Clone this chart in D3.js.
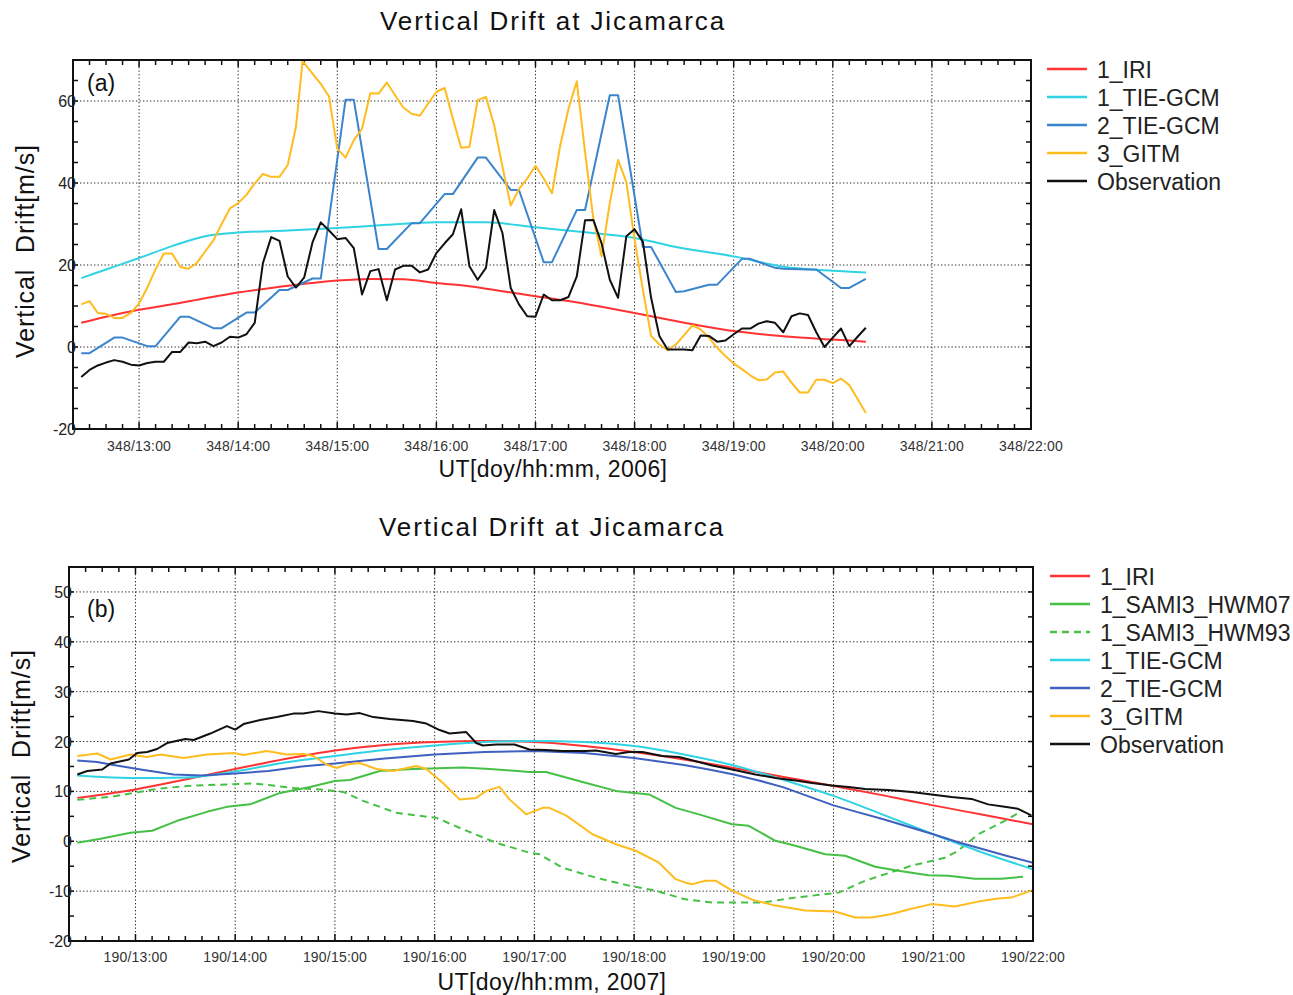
<!DOCTYPE html>
<html><head><meta charset="utf-8">
<script src="https://cdn.jsdelivr.net/npm/d3@7"></script>
<style>
body{margin:0;background:#fff}
svg{display:block}
text{font-family:"Liberation Sans",Arial,Helvetica,sans-serif;fill:#111}
</style>
</head><body>
<svg id="chart" width="1293" height="995"></svg>
<script>
// ---------------- DATA ----------------
const chartTitle = "Vertical Drift at Jicamarca";
const yAxisLabel = "Vertical  Drift[m/s]";
const xTickHours = [13,14,15,16,17,18,19,20,21,22];

// Panel (a): day 348, 2006
const aDoy = "348";
const aXLabel = "UT[doy/hh:mm, 2006]";
const aYTicks = [-20, 0, 20, 40, 60];
const aNames = ["1_IRI", "1_TIE-GCM", "2_TIE-GCM", "3_GITM", "Observation"];

const aIRI = [["12:25",5.9],["12:40",7.4],["13:00",9.1],["13:20",10.4],["13:40",11.9],["14:00",13.3],["14:20",14.4],["14:40",15.4],["15:00",16.2],["15:20",16.6],["15:40",16.5],["16:00",15.6],["16:20",14.8],["16:40",13.6],["17:00",12.4],["17:20",11.2],["17:40",9.8],["18:00",8.3],["18:20",6.7],["18:40",5.2],["19:00",3.9],["19:20",3.0],["19:40",2.3],["20:00",1.8],["20:20",1.3]];

const aTIE1 = [["12:25",16.8],["12:40",18.9],["13:00",21.7],["13:20",24.6],["13:40",27.0],["14:00",27.9],["14:30",28.4],["15:00",29.0],["15:30",29.8],["16:00",30.4],["16:30",30.4],["17:00",29.2],["17:30",28.0],["18:00",26.6],["18:30",24.0],["19:00",22.1],["19:30",19.6],["20:00",18.6],["20:20",18.2]];

const aTIE2 = [["12:25",-1.5],["12:30",-1.5],["12:45",2.3],["12:50",2.3],["13:05",0.2],["13:10",0.2],["13:25",7.4],["13:30",7.4],["13:45",4.6],["13:50",4.6],["14:05",8.4],["14:10",8.4],["14:25",13.9],["14:30",13.9],["14:45",16.7],["14:50",16.7],["15:05",60.3],["15:10",60.3],["15:25",23.9],["15:30",23.9],["15:45",30.2],["15:50",30.2],["16:05",37.3],["16:10",37.3],["16:25",46.2],["16:30",46.2],["16:45",38.3],["16:50",38.3],["17:05",20.7],["17:10",20.7],["17:25",33.4],["17:30",33.4],["17:45",61.4],["17:50",61.4],["18:05",24.4],["18:10",24.4],["18:25",13.4],["18:30",13.6],["18:45",15.2],["18:50",15.2],["19:05",21.5],["19:10",21.5],["19:25",19.3],["19:30",19.1],["19:45",18.9],["19:50",18.9],["20:05",14.4],["20:10",14.4],["20:20",16.6]];

const aGITM = [["12:25",10.4],["12:30",11.2],["12:35",8.3],["12:40",8.1],["12:45",7.1],["12:50",7.1],["12:55",8.3],["13:00",10.6],["13:05",14.5],["13:10",19.0],["13:15",22.8],["13:20",22.8],["13:25",19.5],["13:30",19.1],["13:35",20.5],["13:40",23.3],["13:45",26.0],["13:50",30.0],["13:55",33.8],["14:00",35.1],["14:05",37.1],["14:10",39.9],["14:15",42.2],["14:20",41.5],["14:25",41.5],["14:30",44.4],["14:35",53.7],["14:39",69.8],["14:45",66.7],["14:50",64.2],["14:55",61.1],["15:00",48.4],["15:05",46.2],["15:10",50.4],["15:15",53.3],["15:20",61.9],["15:25",61.8],["15:30",64.5],["15:35",61.4],["15:40",58.4],["15:45",56.9],["15:50",56.4],["15:55",59.4],["16:00",62.2],["16:05",63.2],["16:10",55.7],["16:15",48.6],["16:20",48.8],["16:25",60.2],["16:30",61.0],["16:35",54.1],["16:40",44.0],["16:45",34.5],["16:50",38.5],["16:55",41.1],["17:00",44.2],["17:05",41.1],["17:10",37.5],["17:15",49.2],["17:20",58.1],["17:25",64.8],["17:30",47.6],["17:35",31.4],["17:40",22.1],["17:45",35.1],["17:50",45.6],["17:55",40.3],["18:00",26.2],["18:05",14.0],["18:10",2.7],["18:15",0.6],["18:20",-0.8],["18:25",0.6],["18:30",2.9],["18:35",5.3],["18:40",4.3],["18:45",2.3],["18:50",-0.2],["18:55",-2.2],["19:00",-4.0],["19:05",-5.4],["19:10",-6.9],["19:15",-8.1],["19:20",-7.9],["19:25",-6.2],["19:30",-6.0],["19:35",-8.7],["19:40",-11.1],["19:45",-11.1],["19:50",-8.0],["19:55",-8.0],["20:00",-8.8],["20:05",-7.7],["20:10",-9.3],["20:15",-12.7],["20:20",-16.1]];

const aObs = [["12:25",-7.3],["12:30",-5.6],["12:35",-4.5],["12:40",-3.8],["12:45",-3.2],["12:50",-3.6],["12:55",-4.3],["13:00",-4.5],["13:05",-3.9],["13:10",-3.6],["13:15",-3.6],["13:20",-1.2],["13:25",-1.2],["13:30",1.1],["13:35",0.9],["13:40",1.3],["13:45",0.2],["13:50",1.1],["13:55",2.5],["14:00",2.3],["14:05",3.1],["14:10",5.9],["14:15",20.5],["14:20",26.8],["14:25",25.9],["14:30",17.2],["14:35",14.5],["14:40",17.0],["14:45",25.5],["14:50",30.4],["14:55",28.4],["15:00",26.3],["15:05",26.6],["15:10",24.1],["15:15",12.8],["15:20",18.5],["15:25",19.0],["15:30",11.4],["15:35",18.9],["15:40",19.8],["15:45",19.8],["15:50",18.2],["15:55",18.9],["16:00",22.9],["16:05",25.3],["16:10",27.5],["16:15",33.6],["16:20",19.7],["16:25",16.4],["16:30",19.3],["16:35",33.4],["16:40",27.8],["16:45",14.4],["16:50",10.4],["16:55",7.5],["17:00",7.4],["17:05",12.8],["17:10",11.4],["17:15",11.4],["17:20",12.2],["17:25",17.2],["17:30",30.9],["17:35",31.0],["17:40",25.3],["17:45",16.4],["17:50",12.0],["17:55",27.0],["18:00",28.7],["18:05",25.7],["18:10",12.0],["18:15",2.7],["18:20",-0.6],["18:25",-0.6],["18:30",-0.6],["18:35",-0.8],["18:40",2.8],["18:45",2.7],["18:50",1.3],["18:55",1.6],["19:00",3.1],["19:05",4.5],["19:10",4.5],["19:15",5.7],["19:20",6.3],["19:25",5.9],["19:30",3.6],["19:35",7.5],["19:40",8.2],["19:45",7.8],["19:50",3.6],["19:55",0.0],["20:00",2.3],["20:05",4.5],["20:10",0.2],["20:15",2.5],["20:20",4.7]];

// Panel (b): day 190, 2007
const bDoy = "190";
const bXLabel = "UT[doy/hh:mm, 2007]";
const bYTicks = [-20, -10, 0, 10, 20, 30, 40, 50];
const bNames = ["1_IRI", "1_SAMI3_HWM07", "1_SAMI3_HWM93", "1_TIE-GCM", "2_TIE-GCM", "3_GITM", "Observation"];

const bIRI = [["12:25",8.7],["13:00",10.4],["13:30",12.4],["14:00",14.5],["14:30",16.5],["15:00",18.2],["15:30",19.3],["16:00",19.9],["16:30",20.1],["17:00",19.9],["17:30",19.1],["18:00",17.9],["18:30",16.4],["19:00",14.7],["19:30",12.9],["20:00",11.1],["20:30",9.2],["21:00",7.2],["21:30",5.3],["22:00",3.4]];

const bSAMI07 = [["12:25",-0.3],["12:39",0.5],["12:57",1.7],["13:10",2.1],["13:25",4.1],["13:43",5.9],["13:55",6.9],["14:09",7.4],["14:27",9.7],["14:45",10.9],["15:00",12.1],["15:09",12.3],["15:15",12.9],["15:27",14.1],["15:47",14.5],["16:17",14.8],["16:33",14.5],["16:57",13.9],["17:07",13.9],["17:29",11.9],["17:49",10.1],["18:09",9.4],["18:25",6.7],["18:39",5.4],["18:59",3.4],["19:09",3.1],["19:25",0.1],["19:37",-0.9],["19:55",-2.6],["20:07",-2.9],["20:25",-5.1],["20:39",-5.9],["20:57",-6.8],["21:09",-6.9],["21:25",-7.5],["21:41",-7.5],["21:54",-7.1]];

const bSAMI93 = [["12:25",8.3],["12:31",8.5],["12:45",8.9],["12:59",9.7],["13:13",10.5],["13:31",11.1],["13:55",11.4],["14:11",11.6],["14:35",10.7],["14:51",10.4],["15:05",9.9],["15:17",8.1],["15:37",5.7],["15:51",5.1],["16:01",4.7],["16:17",2.4],["16:37",-0.3],["16:57",-2.3],["17:03",-2.6],["17:17",-5.3],["17:37",-7.3],["17:57",-8.9],["18:13",-9.9],["18:30",-11.6],["18:47",-12.3],["19:17",-12.3],["19:37",-11.3],["20:03",-10.3],["20:19",-7.9],["20:47",-4.9],["21:07",-3.3],["21:15",-1.9],["21:27",1.4],["21:43",4.1],["21:54",6.2]];

const bTIE1 = [["12:25",13.2],["12:40",12.9],["13:00",12.7],["13:30",12.8],["14:00",14.0],["14:30",15.8],["15:00",17.1],["15:30",18.3],["16:00",19.2],["16:30",19.9],["17:00",20.1],["17:30",19.9],["18:00",19.1],["18:30",17.4],["19:00",15.2],["19:30",12.3],["20:00",9.1],["20:30",5.3],["21:00",1.4],["21:30",-2.3],["22:00",-5.6]];

const bTIE2 = [["12:25",16.2],["12:37",15.9],["12:45",15.4],["13:05",14.3],["13:23",13.4],["13:40",13.2],["14:00",13.6],["14:20",14.1],["14:40",15.0],["15:00",15.6],["15:30",16.6],["16:00",17.4],["16:30",17.9],["17:00",18.1],["17:30",17.7],["18:00",16.7],["18:15",16.0],["18:30",15.3],["18:45",14.4],["19:00",13.4],["19:15",12.2],["19:30",10.8],["19:45",9.0],["20:00",7.2],["20:15",5.8],["20:30",4.4],["20:45",2.9],["21:00",1.4],["21:15",-0.2],["21:30",-1.6],["21:45",-3.0],["22:00",-4.3]];

const bGITM = [["12:25",17.1],["12:37",17.6],["12:45",16.4],["12:57",17.4],["13:07",16.9],["13:15",17.4],["13:29",16.7],["13:43",17.4],["13:59",17.7],["14:05",17.3],["14:19",18.1],["14:31",17.4],["14:41",17.5],["14:47",17.1],["14:55",15.4],["15:01",14.7],["15:07",15.4],["15:15",15.7],["15:25",14.5],["15:35",14.1],["15:49",15.1],["15:55",14.5],["16:05",11.7],["16:15",8.4],["16:25",8.7],["16:31",10.1],["16:39",10.9],["16:45",8.4],["16:55",5.4],["17:05",6.7],["17:09",6.7],["17:19",5.2],["17:35",1.4],["17:49",-0.6],["18:01",-1.9],["18:15",-4.3],["18:25",-7.6],["18:31",-8.3],["18:35",-8.6],["18:43",-7.9],["18:49",-7.9],["18:59",-9.9],["19:11",-11.7],["19:25",-12.9],["19:43",-13.9],["20:01",-14.1],["20:13",-15.3],["20:23",-15.3],["20:35",-14.6],["20:45",-13.7],["20:59",-12.6],["21:13",-13.1],["21:27",-12.1],["21:39",-11.5],["21:47",-11.3],["21:59",-9.9]];

const bObs = [["12:25",13.4],["12:31",14.1],["12:40",14.4],["12:45",15.6],["12:56",16.4],["13:01",17.7],["13:07",17.9],["13:13",18.5],["13:19",19.7],["13:30",20.5],["13:35",20.3],["13:45",21.6],["13:55",23.1],["14:00",22.4],["14:05",23.5],["14:15",24.3],["14:25",24.9],["14:35",25.6],["14:41",25.6],["14:50",26.1],["15:00",25.6],["15:07",25.4],["15:15",25.7],["15:23",24.9],["15:33",24.5],["15:47",24.1],["15:55",23.6],["16:03",22.3],["16:09",21.6],["16:19",21.9],["16:25",19.7],["16:29",19.2],["16:37",19.4],["16:48",19.4],["16:57",18.4],["17:07",18.3],["17:17",18.1],["17:31",18.1],["17:37",18.2],["17:49",17.5],["17:57",17.9],["18:05",17.9],["18:17",17.1],["18:27",16.9],["18:33",16.4],["18:47",15.2],["18:59",14.4],["19:13",13.4],["19:25",12.7],["19:37",12.2],["19:47",11.7],["19:59",11.2],["20:09",10.9],["20:19",10.5],["20:33",10.3],["20:47",9.9],["20:59",9.4],["21:11",8.9],["21:23",8.5],["21:33",7.4],["21:43",6.9],["21:51",6.5],["21:59",5.2]];

// ---------------- DRAWING ----------------
const svg = d3.select("#chart");
const hrs = s => { const [h, m] = s.split(":").map(Number); return h + m / 60; };
const X0 = hrs("12:20"), X1 = hrs("22:00");

function panel(cfg) {
  const {left, right, top, bottom, yDomain, yTicks, doy, xLabel, letter, series, legendX, legendY, titleY, tickLabelY, xLabelY, yLabelPos, letterPos, id} = cfg;
  const x = d3.scaleLinear().domain([X0, X1]).range([left, right]);
  const y = d3.scaleLinear().domain(yDomain).range([bottom, top]);
  const g = svg.append("g");

  // title
  g.append("text").attr("x", (left + right) / 2 + 1).attr("y", titleY)
    .attr("text-anchor", "middle").style("font-size", "26px").style("letter-spacing", "1.9px")
    .text(chartTitle);

  // grid (dotted)
  const gridStyle = sel => sel.attr("stroke", "#222").attr("stroke-width", 1).attr("stroke-dasharray", "1.3,2.2");
  g.selectAll(".vg").data(xTickHours.filter(h => x(h) < right - 1)).join("line")
    .attr("x1", d => x(d)).attr("x2", d => x(d)).attr("y1", top).attr("y2", bottom).call(gridStyle);
  g.selectAll(".hg").data(yTicks.filter(v => y(v) > top + 1 && y(v) < bottom - 1)).join("line")
    .attr("x1", left).attr("x2", right).attr("y1", d => y(d)).attr("y2", d => y(d)).call(gridStyle);

  // minor ticks: x every 10 minutes, y every 5 units
  const xMinor = d3.range(X0 + 10 / 60, X1 - 1e-6, 10 / 60);
  const isHour = d => Math.abs(d - Math.round(d)) < 1e-6;
  const tk = g.append("g").attr("stroke", "#111").attr("stroke-width", 1.5);
  xMinor.forEach(d => {
    const L = isHour(d) ? 7 : 5;
    tk.append("line").attr("x1", x(d)).attr("x2", x(d)).attr("y1", bottom).attr("y2", bottom - L);
    tk.append("line").attr("x1", x(d)).attr("x2", x(d)).attr("y1", top).attr("y2", top + L);
  });
  const yMinor = d3.range(yDomain[0] + 5, yDomain[1] - 1e-6, 5);
  yMinor.forEach(v => {
    tk.append("line").attr("x1", left).attr("x2", left + 5).attr("y1", y(v)).attr("y2", y(v));
    tk.append("line").attr("x1", right).attr("x2", right - 5).attr("y1", y(v)).attr("y2", y(v));
  });

  // series
  const clipId = "clip" + id;
  svg.append("clipPath").attr("id", clipId).append("rect")
    .attr("x", left).attr("y", top).attr("width", right - left).attr("height", bottom - top);
  const line = d3.line().x(d => x(hrs(d[0]))).y(d => y(d[1]));
  const lines = g.append("g").attr("clip-path", `url(#${clipId})`);
  series.forEach(s => {
    lines.append("path").datum(s.data).attr("d", line.curve(s.smooth ? d3.curveMonotoneX : d3.curveLinear))
      .attr("fill", "none").attr("stroke", s.color).attr("stroke-width", s.width || 2)
      .attr("stroke-linejoin", "round").attr("stroke-dasharray", s.dash || null);
  });

  // frame
  g.append("rect").attr("x", left).attr("y", top).attr("width", right - left).attr("height", bottom - top)
    .attr("fill", "none").attr("stroke", "#111").attr("stroke-width", 2);

  // x tick labels
  g.selectAll(".xl").data(xTickHours).join("text")
    .attr("x", d => x(d)).attr("y", tickLabelY).attr("text-anchor", "middle")
    .style("font-size", "14px").style("fill", "#333").style("letter-spacing", "0.2px")
    .text(d => `${doy}/${d3.format("02d")(d)}:00`);
  // y tick labels
  g.selectAll(".yl").data(yTicks).join("text")
    .attr("x", left + 3).attr("y", d => y(d) + 6).attr("text-anchor", "end")
    .style("font-size", "16px").style("fill", "#222")
    .text(d => d);

  // axis titles
  g.append("text").attr("x", (left + right) / 2 + 1).attr("y", xLabelY).attr("text-anchor", "middle")
    .style("font-size", "23px").style("letter-spacing", "0.4px").text(xLabel);
  g.append("text").attr("transform", `translate(${yLabelPos[0]},${yLabelPos[1]}) rotate(-90)`)
    .attr("text-anchor", "middle").attr("dy", "0.35em").style("font-size", "25px").style("letter-spacing", "0.9px")
    .style("white-space", "pre").text(yAxisLabel);

  // panel letter
  g.append("text").attr("x", letterPos[0]).attr("y", letterPos[1]).style("font-size", "23px").text(letter);

  // legend
  const lg = g.append("g");
  series.forEach((s, i) => {
    const yy = legendY + i * 28;
    lg.append("line").attr("x1", legendX).attr("x2", legendX + 40).attr("y1", yy).attr("y2", yy)
      .attr("stroke", s.color).attr("stroke-width", 2.5).attr("stroke-dasharray", s.dash || null);
    lg.append("text").attr("x", legendX + 50).attr("y", yy + 8.5).style("font-size", "23px").style("fill", "#222").text(s.name);
  });
}

const cRed = "#ff3333", cCyan = "#2fd3e3", cYel = "#ffbc1f", cBlk = "#111111", cGrn = "#45c045";

panel({
  id: "a", left: 73, right: 1031, top: 60, bottom: 429, yDomain: [-20, 70], yTicks: aYTicks,
  doy: aDoy, xLabel: aXLabel, letter: "(a)",
  titleY: 30, tickLabelY: 451, xLabelY: 477, yLabelPos: [25, 251], letterPos: [87, 91],
  legendX: 1047, legendY: 69,
  series: [
    {name: aNames[0], data: aIRI, color: cRed, smooth: true},
    {name: aNames[1], data: aTIE1, color: cCyan, smooth: true},
    {name: aNames[2], data: aTIE2, color: "#3b85cc"},
    {name: aNames[3], data: aGITM, color: cYel},
    {name: aNames[4], data: aObs, color: cBlk}
  ]
});

panel({
  id: "b", left: 69, right: 1033, top: 567, bottom: 941, yDomain: [-20, 55], yTicks: bYTicks,
  doy: bDoy, xLabel: bXLabel, letter: "(b)",
  titleY: 536, tickLabelY: 962, xLabelY: 990, yLabelPos: [21, 756], letterPos: [87, 617],
  legendX: 1050, legendY: 576,
  series: [
    {name: bNames[0], data: bIRI, color: cRed, smooth: true},
    {name: bNames[1], data: bSAMI07, color: cGrn},
    {name: bNames[2], data: bSAMI93, color: cGrn, dash: "7,5"},
    {name: bNames[3], data: bTIE1, color: cCyan, smooth: true},
    {name: bNames[4], data: bTIE2, color: "#4060c0"},
    {name: bNames[5], data: bGITM, color: cYel},
    {name: bNames[6], data: bObs, color: cBlk}
  ]
});
</script>
</body></html>
